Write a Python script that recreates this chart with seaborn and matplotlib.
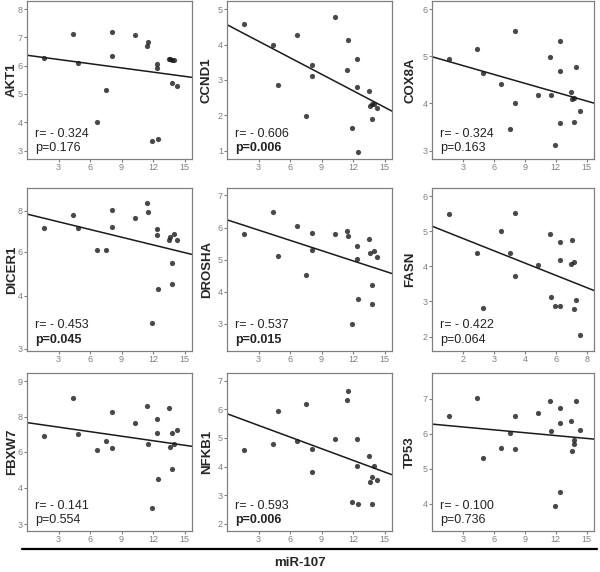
import numpy as np
import matplotlib
matplotlib.use("Agg")
import matplotlib.pyplot as plt
import seaborn as sns

sns.set_style("white")
plt.rcParams["font.family"] = ["Liberation Sans", "DejaVu Sans"]

# miR-107 expression, shared by all panels
mir107 = [1.65, 4.35, 4.9, 6.65, 7.55, 8.05, 8.05, 10.3, 11.45, 11.55,
          11.9, 12.4, 12.4, 12.45, 13.5, 13.6, 13.8, 13.8, 13.95, 14.3]

akt1 = [6.27, 7.12, 6.08, 4.01, 5.15, 7.19, 6.35, 7.08, 6.71, 6.84,
        3.33, 6.07, 5.92, 3.41, 6.25, 6.23, 5.40, 6.20, 6.20, 5.29]
ccnd1 = [4.58, 3.99, 2.86, 4.28, 1.98, 3.41, 3.11, 4.77, 3.29, 4.12,
         1.63, 3.58, 2.80, 0.96, 2.68, 2.27, 1.88, 2.33, 2.33, 2.20]
cox8a = [4.94, 5.15, 4.65, 4.40, 3.45, 5.53, 4.00, 4.18, 4.98, 4.18,
         3.12, 5.32, 4.69, 3.58, 4.24, 4.09, 3.61, 4.11, 4.78, 3.83]
dicer1 = [7.15, 7.77, 7.18, 6.11, 6.11, 8.05, 7.23, 7.66, 8.38, 7.92,
          3.49, 7.13, 6.84, 4.32, 6.56, 6.72, 5.48, 4.53, 6.89, 6.59]
drosha = [5.81, 6.47, 5.13, 6.05, 4.53, 5.83, 5.30, 5.81, 5.90, 5.75,
          3.00, 5.43, 5.01, 3.78, 5.63, 5.21, 4.20, 3.63, 5.26, 5.09]
fasn = [5.48, 4.37, 2.80, 5.00, 4.37, 5.52, 3.72, 4.03, 4.93, 3.12,
        2.88, 4.68, 4.18, 2.88, 4.06, 4.76, 2.78, 4.11, 3.05, 2.05]
fbxw7 = [6.91, 8.52, 6.99, 6.10, 6.59, 8.14, 6.21, 7.62, 8.29, 6.44,
         3.45, 7.87, 7.05, 4.50, 8.24, 6.25, 7.05, 5.03, 6.42, 7.22]
nfkb1 = [4.58, 4.80, 5.95, 4.91, 6.17, 4.61, 3.80, 4.98, 6.33, 6.63,
         2.77, 4.97, 4.02, 2.68, 4.38, 3.45, 3.64, 2.68, 4.02, 3.52]
tp53 = [6.49, 7.03, 5.30, 5.59, 6.03, 6.50, 5.55, 6.59, 6.92, 6.08,
        3.94, 6.73, 6.29, 4.33, 6.35, 5.50, 5.71, 5.83, 6.92, 6.11]

genes = ["AKT1", "CCND1", "COX8A", "DICER1", "DROSHA", "FASN", "FBXW7", "NFKB1", "TP53"]
values = [akt1, ccnd1, cox8a, dicer1, drosha, fasn, fbxw7, nfkb1, tp53]
r_vals = ["- 0.324", "- 0.606", "- 0.324", "- 0.453", "- 0.537", "- 0.422", "- 0.141", "- 0.593", "- 0.100"]
p_vals = [0.176, 0.006, 0.163, 0.045, 0.015, 0.064, 0.554, 0.006, 0.736]

# y tick labels as printed on each panel
yticks = [[3, 4, 5, 6, 7, 8], [1, 2, 3, 4, 5], [3, 4, 5, 6], [3, 4, 6, 8], [3, 4, 5, 6, 7],
          [2, 3, 4, 5, 6], [3, 4, 6, 8, 9], [2, 3, 4, 5, 6, 7], [4, 5, 6, 7]]
# DICER1 and FBXW7 axes are not evenly spaced in the original
ytick_pos = {"DICER1": [0, 1.57, 2.88, 4.10], "FBXW7": [0, 1.10, 2.17, 3.22, 4.27]}
ylims = [(2.7, 8.27), (0.76, 5.22), (2.82, 6.16), (2.955, 9.11), (2.16, 7.23),
         (1.59, 6.23), (2.82, 9.24), (1.75, 7.27), (3.22, 7.73)]

xticks = [3, 6, 9, 12, 15]
fasn_xlabels = ["2", "3", "4", "6", "8"]


def to_axis(v, tv, tp):
    v = np.atleast_1d(np.asarray(v, float))
    tv = np.asarray(tv, float)
    tp = np.asarray(tp, float)
    out = np.interp(v, tv, tp)
    lo, hi = v < tv[0], v > tv[-1]
    out[lo] = tp[0] + (v[lo] - tv[0]) * (tp[1] - tp[0]) / (tv[1] - tv[0])
    out[hi] = tp[-1] + (v[hi] - tv[-1]) * (tp[-1] - tp[-2]) / (tv[-1] - tv[-2])
    return out


W, H = 600, 572
fig = plt.figure(figsize=(6, 5.72), dpi=100)

rows = [(1.5, 159), (188, 351), (373, 531)]
cols = [(27, 192), (227, 392), (432, 594)]
label_off = [-15, -20, -22]
grey = "#808080"

for i, gene in enumerate(genes):
    top, bot = rows[i // 3]
    left, right = cols[i % 3]
    ax = fig.add_axes([left / W, 1 - bot / H, (right - left) / W, (bot - top) / H])

    tv = yticks[i]
    tp = ytick_pos.get(gene, tv)
    y = to_axis(values[i], tv, tp)

    ax.set_xlim(0, 15.7)
    ax.set_ylim(*to_axis(ylims[i], tv, tp))
    sns.regplot(x=np.array(mir107), y=y, ax=ax, ci=None, truncate=False,
                scatter_kws=dict(s=14, color="#1a1a1a", linewidths=0),
                line_kws=dict(color="#1a1a1a", lw=1.1))

    ax.set_yticks(tp)
    ax.set_yticklabels([str(t) for t in tv])
    ax.set_xticks(xticks)
    if gene == "FASN":
        ax.set_xticklabels(fasn_xlabels)
    else:
        ax.set_xticklabels([str(t) for t in xticks])

    for s in ax.spines.values():
        s.set_color(grey)
        s.set_linewidth(0.9)
    ax.tick_params(direction="out", length=2, width=0.8, color=grey,
                   labelcolor=grey, labelsize=6.5, pad=1,
                   left=True, bottom=True)

    ax.set_xlabel("")
    ax.set_ylabel(gene, fontsize=9.5, fontweight="bold", va="center")
    ax.yaxis.set_label_coords(label_off[i % 3] / (right - left), 0.5)

    ax.text(0.05, 0.16, "r= " + r_vals[i], transform=ax.transAxes,
            fontsize=9, color="#222222", va="center")
    ax.text(0.05, 0.07, "p=%.3f" % p_vals[i], transform=ax.transAxes,
            fontsize=9, color="#222222", va="center",
            fontweight="bold" if p_vals[i] < 0.05 else "normal")

fig.add_artist(plt.Line2D([22 / W, 597 / W], [1 - 549 / H, 1 - 549 / H],
                          color="black", lw=1.6))
fig.text(300 / W, 1 - 563 / H, "miR-107", ha="center", va="center",
         fontsize=9.5, fontweight="bold")

fig.savefig("out.png", dpi=100)
